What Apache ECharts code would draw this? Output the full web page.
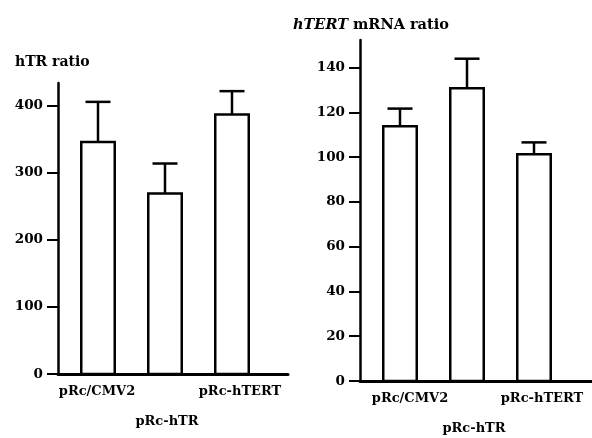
<!DOCTYPE html>
<html><head><meta charset="utf-8">
<script src="https://cdn.jsdelivr.net/npm/echarts@6/dist/echarts.min.js"></script>
<style>html,body{margin:0;padding:0;background:#fff}#c{width:592px;height:438px}</style>
</head><body><div id="c"></div>
<script>
const categories = ['pRc/CMV2', 'pRc-hTR', 'pRc-hTERT'];
const hTRMean = [350, 273, 391];
const hTRUpper = [408, 316, 424];
const hTERTMean = [115, 132, 102.5];
const hTERTUpper = [122.3, 144.6, 107.2];
const leftTicks = [0, 100, 200, 300, 400];
const rightTicks = [0, 20, 40, 60, 80, 100, 120, 140];

const FONT = 'DejaVu Serif';
const chart = echarts.init(document.getElementById('c'));

function frameX(grid) {
  return { type: 'value', gridIndex: grid, min: 0, max: 1, z: 10,
    axisLine: { show: true, onZero: false, lineStyle: { color: '#000', width: 3 } },
    axisTick: { show: false }, axisLabel: { show: false }, splitLine: { show: false } };
}
function frameY(grid, max, interval, ticks) {
  return { type: 'value', gridIndex: grid, min: 0, max: max, interval: interval,
    axisLine: { show: true, lineStyle: { color: '#000', width: 2.5 } },
    axisTick: { show: true, length: 11, customValues: ticks, lineStyle: { color: '#000', width: 2 } },
    axisLabel: { show: true, margin: 15, customValues: ticks, color: '#000', fontFamily: FONT, fontSize: 13.5, fontWeight: 'bold' },
    splitLine: { show: false } };
}
function barX(grid, rich) {
  return { type: 'category', gridIndex: grid, data: categories, boundaryGap: true,
    axisLine: { show: false }, axisTick: { show: false }, splitLine: { show: false },
    axisLabel: { show: true, margin: 10, interval: 0,
      formatter: function (v, i) { return '{r' + i + '|' + v + '}'; },
      rich: rich } };
}
function hiddenY(grid, max) {
  return { type: 'value', gridIndex: grid, min: 0, max: max, show: false };
}
function richSet(shifts) {
  const r = {};
  shifts.forEach(function (d, i) {
    const top = i === 1 ? 30 : 0;
    r['r' + i] = { fontFamily: FONT, fontSize: 13, fontWeight: 'bold', color: '#000',
      padding: [top, d < 0 ? -2 * d : 0, 0, d > 0 ? 2 * d : 0] };
  });
  return r;
}
function errSeries(xi, yi, mean, upper) {
  return { type: 'custom', xAxisIndex: xi, yAxisIndex: yi, z: 1,
    data: mean.map(function (m, i) { return [i, m, upper[i]]; }),
    encode: { x: 0, y: [1, 2] },
    renderItem: function (params, api) {
      const p1 = api.coord([api.value(0), api.value(1)]);
      const p2 = api.coord([api.value(0), api.value(2)]);
      const st = { stroke: '#000', lineWidth: 2.5 };
      return { type: 'group', children: [
        { type: 'line', shape: { x1: p1[0], y1: p1[1] + 2, x2: p2[0], y2: p2[1] }, style: st },
        { type: 'line', shape: { x1: p2[0] - 12.5, y1: p2[1], x2: p2[0] + 12.5, y2: p2[1] }, style: st }
      ] };
    } };
}
function barSeries(xi, yi, vals) {
  return { type: 'bar', xAxisIndex: xi, yAxisIndex: yi, data: vals, barWidth: 36, z: 2,
    itemStyle: { color: '#fff', borderColor: '#000', borderWidth: 2.5 }, animation: false };
}

chart.setOption({
  animation: false,
  backgroundColor: '#fff',
  title: [
    { text: 'hTR ratio', left: 10, top: 50, textStyle: { fontFamily: FONT, fontSize: 14, fontWeight: 'bold', color: '#000' } },
    { text: '{i|hTERT} mRNA ratio', left: 288, top: 13, textStyle: { fontFamily: FONT, fontSize: 14.5, fontWeight: 'bold', color: '#000',
      rich: { i: { fontFamily: FONT, fontSize: 14.5, fontWeight: 'bold', fontStyle: 'italic', color: '#000' } } } }
  ],
  grid: [
    { left: 58, top: 83, width: 230, height: 291 },
    { left: 64.5, top: 84.25, width: 201, height: 291 },
    { left: 360, top: 40, width: 232, height: 341 },
    { left: 366.5, top: 41.25, width: 201, height: 341 }
  ],
  xAxis: [
    frameX(0),
    barX(1, richSet([-1, 2, 8])),
    frameX(2),
    barX(3, richSet([10, 7, 8]))
  ],
  yAxis: [
    frameY(0, 434.3, 100, leftTicks),
    hiddenY(1, 434.3),
    frameY(2, 152.4, 20, rightTicks),
    hiddenY(3, 152.4)
  ],
  series: [
    errSeries(1, 1, hTRMean, hTRUpper),
    barSeries(1, 1, hTRMean),
    errSeries(3, 3, hTERTMean, hTERTUpper),
    barSeries(3, 3, hTERTMean)
  ]
});
</script></body></html>
